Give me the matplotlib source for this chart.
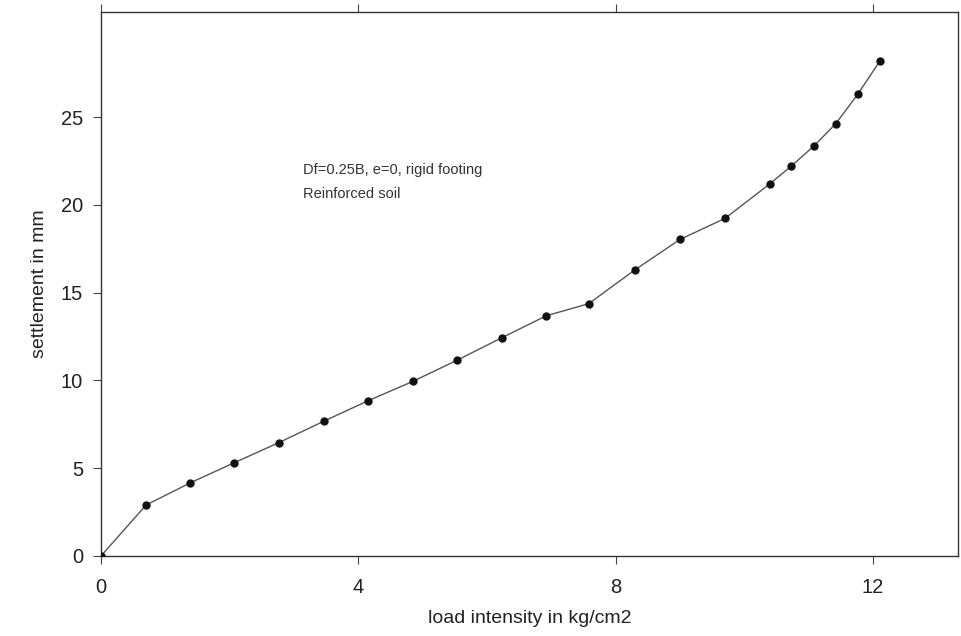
import matplotlib
matplotlib.use("Agg")
import matplotlib.pyplot as plt

plt.rcParams['font.family'] = ['Liberation Sans', 'DejaVu Sans']

# load intensity (kg/cm2) vs settlement (mm)
load = [0.0, 0.70, 1.39, 2.07, 2.76, 3.46, 4.15, 4.85, 5.54, 6.23, 6.92,
        7.58, 8.30, 9.00, 9.70, 10.39, 10.73, 11.08, 11.42, 11.76, 12.11]
settlement = [0.0, 2.90, 4.17, 5.31, 6.45, 7.67, 8.84, 9.95, 11.16, 12.43, 13.68,
              14.37, 16.30, 18.03, 19.23, 21.18, 22.21, 23.35, 24.62, 26.29, 28.21]

x_ticks = [0, 4, 8, 12]
y_ticks = [0, 5, 10, 15, 20, 25]
note_lines = ['Df=0.25B, e=0, rigid footing', 'Reinforced soil']

fig = plt.figure(figsize=(9.61, 6.36), dpi=100)
ax = fig.add_axes([0.1051, 0.1258, 0.8918, 0.8553])

ax.plot(load, settlement, color='#555555', lw=1.0, zorder=2)
ax.plot(load, settlement, 'o', color='#111111', ms=5, zorder=3)

ax.set_xlim(0, 13.32)
ax.set_ylim(0, 30.98)
ax.set_xticks(x_ticks)
ax.set_yticks(y_ticks)

for side in ['left', 'bottom', 'top', 'right']:
    ax.spines[side].set_color('#333333')
    ax.spines[side].set_linewidth(1.0)

ax.tick_params(axis='both', direction='out', length=6, width=0.8, color='#444444',
               labelsize=14.5, labelcolor='#222222')
ax.tick_params(axis='x', top=True, pad=10)
ax.tick_params(axis='y', pad=7)

ax.set_xlabel('load intensity in kg/cm2', fontsize=14, color='#222222', labelpad=9)
ax.set_ylabel('settlement in mm', fontsize=14, color='#222222', labelpad=9)

ax.text(3.14, 22.0, note_lines[0], fontsize=10.5, color='#333333', va='center')
ax.text(3.14, 20.6, note_lines[1], fontsize=10.5, color='#333333', va='center')

fig.savefig('out.png', dpi=100)
